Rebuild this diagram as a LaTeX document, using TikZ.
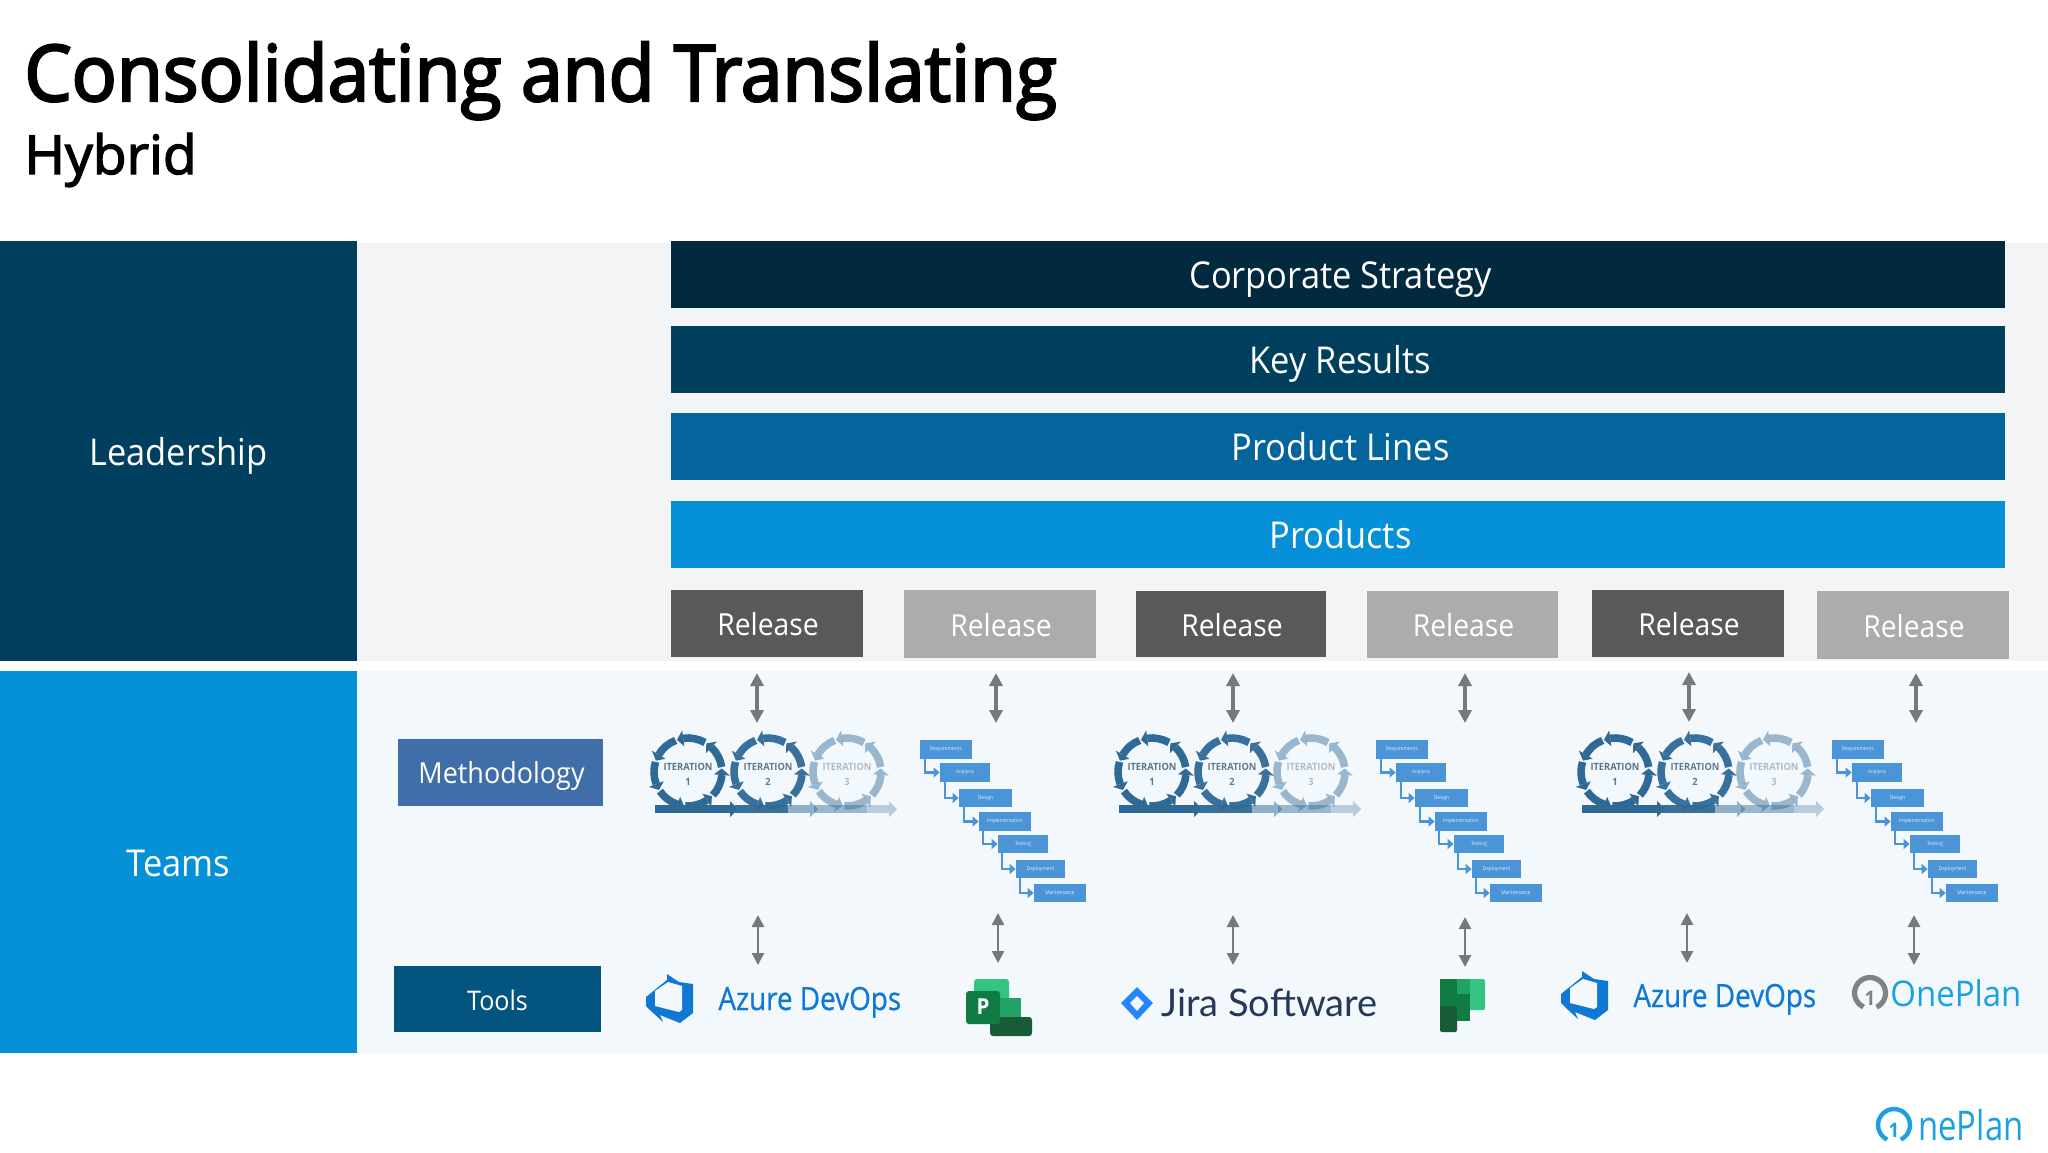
\documentclass[tikz,border=0pt]{standalone}
\usepackage{fontspec}
\setmainfont{Open Sans}
\newfontfamily\titlefont[FakeBold=3,FakeStretch=0.96]{Open Sans}
\newfontfamily\subfont[FakeBold=2.5,FakeStretch=1.02]{Open Sans}
\newfontfamily\bodyfont[FakeStretch=0.93]{Open Sans}
\newfontfamily\azurefont[FakeBold=0.6,FakeStretch=0.87]{Open Sans}
\newfontfamily\onefont[FakeStretch=0.8]{Open Sans}
\newfontfamily\jirafont{Lato}
\usetikzlibrary{arrows.meta}
\definecolor{cLead}{HTML}{013F5F}
\definecolor{cTeam}{HTML}{0590D8}
\definecolor{cGrey}{HTML}{F3F4F6}
\definecolor{cPale}{HTML}{F3F8FD}
\definecolor{cBar1}{HTML}{02293E}
\definecolor{cBar2}{HTML}{013F5F}
\definecolor{cBar3}{HTML}{04659C}
\definecolor{cRelD}{HTML}{58595B}
\definecolor{cRelL}{HTML}{ABACAE}
\definecolor{cMeth}{HTML}{3F6EA8}
\definecolor{cTool}{HTML}{03557F}
\definecolor{cArrow}{HTML}{76787B}
\definecolor{cIter}{HTML}{2F6A96}
\definecolor{cWater}{HTML}{4C94D8}
\definecolor{cAzure}{HTML}{0F78D4}
\definecolor{cOne}{HTML}{1BA1E2}
\definecolor{cOneG}{HTML}{808285}
\definecolor{gA}{HTML}{33C481}
\definecolor{gB}{HTML}{21A366}
\definecolor{gC}{HTML}{107C41}
\definecolor{gD}{HTML}{185C37}
\definecolor{cJira}{HTML}{2684FF}
\definecolor{cJiraT}{HTML}{253858}
\tikzset{
  x=0.5pt,y=-0.5pt,
  band/.style={fill=#1,draw=none,inner sep=0pt,text=white,text height=14pt,text depth=0pt,font=\bodyfont\fontsize{18.5}{22}\selectfont},
  rel/.style={fill=#1,draw=none,inner sep=0pt,text=white,text height=11pt,text depth=0pt,font=\bodyfont\fontsize{14.5}{18}\selectfont},
  relbox/.style={rel=#1,text height=12pt},
  biarrow/.style={draw=cArrow,line width=2.2pt,{Triangle[length=6.5pt,width=6.5pt]}-{Triangle[length=6.5pt,width=6.5pt]}},
  thinarrow/.style={draw=cArrow,line width=1.3pt,{Triangle[length=6pt,width=6pt]}-{Triangle[length=6pt,width=6pt]}},
  fall/.style={fill=cWater,draw=none,inner sep=0pt,text=white!85!cWater,font=\bodyfont\fontsize{2.6}{3}\selectfont},
  fallarrow/.style={draw=cWater,line width=1.1pt,-{Triangle[length=3pt,width=5pt]}},
  logotext/.style={anchor=base west,inner sep=0pt,font=\azurefont\fontsize{16}{20}\selectfont}
}
\newcommand{\reltxt}{\hspace{1pt}\fontsize{15.2}{18}\selectfont Release}
% rectangle node from corner coordinates: name, x0, y0, x1, y1, style, text
\newcommand{\boxnode}[7]{%
  \path[#6] (#2,#3) rectangle (#4,#5);
  \node[#6,fill=none,minimum width=(#4-#2)*0.5pt,minimum height=(#5-#3)*0.5pt] (#1) at ({(#2+#4)/2},{(#3+#5)/2}) {#7};}
% one iteration circle: name, cx, number, opacity, arrow head opacity
\newcommand{\iterloop}[5]{%
  \begin{scope}[shift={(#2,772)},opacity=#4]
    \foreach \a in {300,248.6,197.2,145.8,94.4,43,351.6}{
      \draw[cIter,line width=3.8pt] (\a:34) arc[start angle=-\a,end angle=-\a+38,radius=17pt];
      \fill[cIter] (\a-38:26) -- (\a-38:42) -- (\a-49:34) -- cycle;
    }
    \node[inner sep=0pt,align=center,text=cIter!50!gray,font=\bodyfont\bfseries\fontsize{5}{7.5}\selectfont] (#1) at (0,2) {ITERATION\\#3};
    \fill[cIter] (-33,33) rectangle (20,41);
  \end{scope}
  \begin{scope}[shift={(#2,772)},opacity=#5]
    \fill[cIter] (20,33) rectangle (42,41);
    \fill[cIter] (42,29) -- (50,37) -- (42,45) -- cycle;
  \end{scope}}
\newcommand{\itergroup}[2]{% prefix, x offset
  \iterloop{#1a}{688+#2}{1}{1}{1}
  \iterloop{#1b}{768+#2}{2}{0.95}{0.5}
  \iterloop{#1c}{847+#2}{3}{0.45}{0.3}}
\newcommand{\fallgroup}[2]{% prefix, x offset
  \begin{scope}[xshift=#2*0.5pt]
    \boxnode{#1r}{920}{740}{972}{759}{fall}{Requirements}
    \boxnode{#1n}{940}{763}{990}{782}{fall}{Analysis}
    \boxnode{#1d}{959}{789}{1012}{807}{fall}{Design}
    \boxnode{#1i}{979}{812}{1031}{831}{fall}{Implementation}
    \boxnode{#1t}{998}{835}{1048}{853}{fall}{Testing}
    \boxnode{#1p}{1016}{860}{1065}{878}{fall}{Deployment}
    \boxnode{#1m}{1034}{884}{1086}{902}{fall}{Maintenance}
    \draw[fallarrow] (#1r.south west) ++(5,0) |- (#1n.west);
    \draw[fallarrow] (#1n.south west) ++(5,0) |- (#1d.west);
    \draw[fallarrow] (#1d.south west) ++(5,0) |- (#1i.west);
    \draw[fallarrow] (#1i.south west) ++(4,0) |- (#1t.west);
    \draw[fallarrow] (#1t.south west) ++(4,0) |- (#1p.west);
    \draw[fallarrow] (#1p.south west) ++(4,0) |- (#1m.west);
  \end{scope}}
\newcommand{\azureicon}[2]{% x, y of box top-left
  \begin{scope}[shift={(#1,#2)}]
    \fill[cAzure] (0,23) -- (21,6) -- (21,0) -- (33,8) -- (47,10) -- (47,39) -- (34,49) -- (14,41) -- (17,48) -- (4,36) -- (0,32) -- cycle;
    \fill[cPale] (9,32) -- (9,17) -- (22,8) -- (36,12) -- (36,36) -- (33,38) -- cycle;
  \end{scope}}
\newcommand{\oneicon}[6]{% cx, cy, radius, line width, font size, colour
  \draw[#6,line width=#4pt] (#1,#2) ++(65:#3) arc[start angle=-65,end angle=245,radius=#3*0.5pt];
  \node[inner sep=0pt,text=#6,font=\bodyfont\bfseries\fontsize{#5}{#5}\selectfont] at (#1,#2+5) {1};}
\begin{document}
\begin{tikzpicture}
\useasboundingbox (0,0) rectangle (2048,1152);
\fill[white] (0,0) rectangle (2048,1152);
% title
\node[anchor=base west,inner sep=0pt,font=\titlefont\fontsize{39}{44}\selectfont] (title) at (24,101) {Consolidating and Translating};
\node[anchor=base west,inner sep=0pt,font=\subfont\fontsize{27}{32}\selectfont] (sub) at (24,174) {Hybrid};
% backgrounds
\fill[cGrey] (357,243) rectangle (2048,661);
\fill[cPale] (357,671) rectangle (2048,1053);
\boxnode{lead}{0}{241}{357}{661}{band=cLead}{Leadership}
\boxnode{team}{0}{671}{357}{1053}{band=cTeam}{Teams}
% bands
\boxnode{b1}{671}{241}{2005}{308}{band=cBar1}{\hspace{2.5pt}Corporate Strategy}
\boxnode{b2}{671}{326}{2005}{393}{band=cBar2}{\hspace{2.5pt}Key Results}
\boxnode{b3}{671}{413}{2005}{480}{band=cBar3}{\hspace{2.5pt}Product Lines}
\boxnode{b4}{671}{501}{2005}{568}{band=cTeam}{\hspace{2.5pt}Products}
% releases
\boxnode{r1}{671}{590}{863}{657}{relbox=cRelD}{\reltxt}
\boxnode{r2}{904}{590}{1096}{658}{relbox=cRelL}{\reltxt}
\boxnode{r3}{1136}{591}{1326}{657}{relbox=cRelD}{\reltxt}
\boxnode{r4}{1367}{591}{1558}{658}{relbox=cRelL}{\reltxt}
\boxnode{r5}{1592}{590}{1784}{657}{relbox=cRelD}{\reltxt}
\boxnode{r6}{1817}{591}{2009}{659}{relbox=cRelL}{\reltxt}
% row labels
\boxnode{meth}{398}{739}{603}{806}{rel=cMeth}{\hspace{1pt}Methodology}
\boxnode{tool}{394}{966}{601}{1032}{rel=cTool}{\fontsize{13.5}{16}\selectfont Tools}
% methodology pictures
\itergroup{ia}{0}
\itergroup{ib}{464}
\itergroup{ic}{927}
\fallgroup{fa}{0}
\fallgroup{fb}{456}
\fallgroup{fc}{912}
% arrows
\foreach \n/\x/\ya/\yb in {t1/757/673/723,t2/996/673/723,t3/1233/673/723,t4/1465/673/723,t5/1689/672/722,t6/1916/673/723}{
  \coordinate (\n a) at (\x,\ya);
  \coordinate (\n b) at (\x,\yb);
  \draw[biarrow] (\n a) -- (\n b);
}
\foreach \n/\x/\ya/\yb in {u1/758/915/965,u2/998/913/963,u3/1233/915/965,u4/1465/917/967,u5/1687/913/963,u6/1914/915/965}{
  \coordinate (\n a) at (\x,\ya);
  \coordinate (\n b) at (\x,\yb);
  \draw[thinarrow] (\n a) -- (\n b);
}
% tools: Azure DevOps
\azureicon{646}{974}
\node[logotext,text=cAzure] (az1) at (718,1010) {Azure DevOps};
% tools: Project
\begin{scope}[shift={(966,979)}]
  \fill[gA,rounded corners=1.5pt] (8,0) rectangle (43,30);
  \fill[gB] (25,19) rectangle (55,40);
  \fill[gD,rounded corners=1.5pt] (24,38) rectangle (66,57);
  \fill[gC,rounded corners=1.5pt] (0,12) rectangle (34,45);
  \node[inner sep=0pt,text=white,font=\bodyfont\bfseries\fontsize{11}{12}\selectfont] (proj) at (17,28) {P};
\end{scope}
% tools: Jira
\fill[cJira] (1121,1003) -- (1137,987) -- (1153,1003) -- (1137,1020) -- cycle;
\fill[cPale] (1130,1003) -- (1137,996) -- (1144,1003) -- (1137,1011) -- cycle;
\node[logotext,text=cJiraT,font=\jirafont\fontsize{19}{22}\selectfont] (jira) at (1161,1016) {Jira Software};
% tools: Planner
\begin{scope}[shift={(1440,979)}]
  \fill[gA,rounded corners=1pt] (25,0) rectangle (45,31);
  \fill[gC] (0,0) rectangle (30,42);
  \fill[gB] (17,0) rectangle (30,15);
  \fill[gD,rounded corners=1pt] (0,27) rectangle (17,53);
\end{scope}
% tools: Azure DevOps again
\azureicon{1561}{971}
\node[logotext,text=cAzure] (az2) at (1633,1007) {Azure DevOps};
% tools: OnePlan
\oneicon{1870}{993}{15.5}{2.6}{10}{cOneG}
\node[logotext,text=cOne,font=\bodyfont\fontsize{17.7}{20}\selectfont] (op1) at (1890,1006) {OnePlan};
% footer logo
\oneicon{1894}{1125}{16}{2.2}{10}{cOne}
\node[logotext,text=cOne,font=\onefont\fontsize{20.5}{24}\selectfont] (op2) at (1918,1140) {nePlan};
\end{tikzpicture}
\end{document}
